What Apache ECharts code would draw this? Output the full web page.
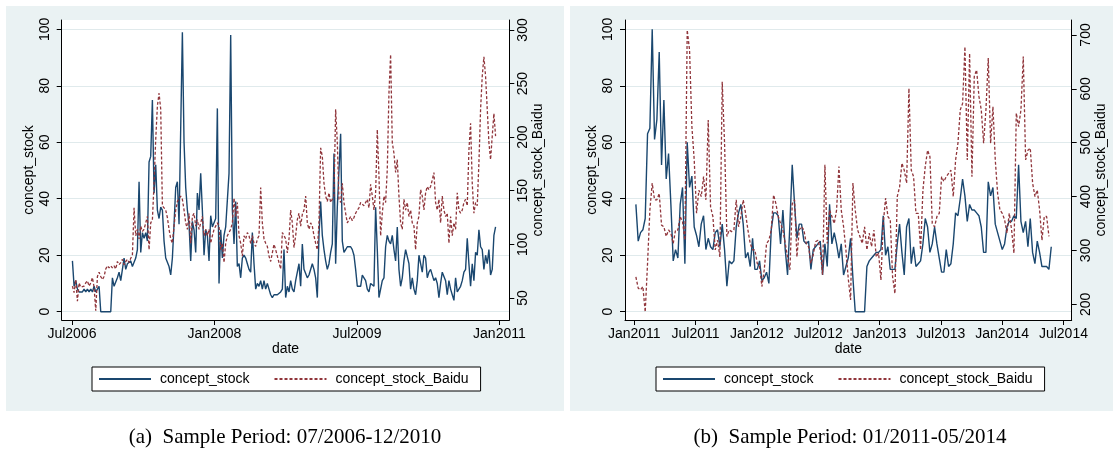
<!DOCTYPE html>
<html><head><meta charset="utf-8">
<script src="https://cdn.jsdelivr.net/npm/echarts@6/dist/echarts.min.js"></script>
<style>html,body{margin:0;padding:0;background:#fff}#c{width:1118px;height:454px}</style>
</head><body><div id="c"></div>
<script>
// ---------------- data ----------------
const seriesNames = ['concept_stock', 'concept_stock_Baidu'];
const ticksA = ['Jul2006', 'Jan2008', 'Jul2009', 'Jan2011'];
const ticksB = ['Jan2011', 'Jul2011', 'Jan2012', 'Jul2012', 'Jan2013', 'Jul2013', 'Jan2014', 'Jul2014'];
const leftTicks = [0, 20, 40, 60, 80, 100];
const rightTicksA = [50, 100, 150, 200, 250, 300];
const rightTicksB = [200, 300, 400, 500, 600, 700];
const captions = ['(a)  Sample Period: 07/2006-12/2010', '(b)  Sample Period: 01/2011-05/2014'];

// weekly observations: first and last week of each series
const periodA = ['2006-07-03', '2010-12-17'];
const periodBStock = ['2011-01-06', '2014-05-26'];
const periodBBaidu = ['2011-01-06', '2014-05-19'];

const stockA = [18,9,11,8,7,7,7,8,7,8,7,8,7,9,7,8,9,0,0,0,0,0,0,0,
12,9,9,12,14,11,15,19,15,17,17,18,16,16,19,22,46,21,28,26,28,25,53,55,75,42,52,36,33,37,36,25,19,19,16,13,19,31,44,46,31,
31,99,60,44,36,31,18,32,29,21,
42,36,49,36,20,29,27,18,34,30,
30,33,72,10,29,19,27,30,30,49,
98,36,24,39,16,17,12,19,20,19,
17,15,14,28,17,8,10,9,11,8,
11,8,10,8,6,5,6,6,6,6,
7,8,22,5,9,7,11,8,7,11,
14,17,9,24,15,15,12,13,13,17,
15,12,5,27,39,27,22,18,15,17,
21,24,56,17,37,37,63,25,21,22,
23,23,23,22,20,15,9,9,9,13,
12,11,8,7,10,10,9,37,22,5,
5,11,12,23,27,25,24,27,22,18,
30,15,9,12,18,22,22,17,8,12,
8,6,11,20,20,14,20,19,12,14,
15,15,11,12,10,5,10,14,14,11,
6,11,8,6,4,12,7,7,9,11,
14,15,26,17,9,17,11,21,20,29,
23,22,15,20,17,22,13,15,27,30];

const baiduA = [61,55,67,47,64,60,61,61,64,66,
61,64,69,60,38,70,74,70,67,70,
77,80,78,80,78,80,77,84,81,83,
86,81,84,86,83,87,90,134,108,114,
105,117,112,114,120,126,95,120,123,157,
198,229,241,226,136,134,132,125,114,105,
101,117,132,140,139,145,142,132,120,114,
129,101,126,129,117,123,114,120,126,108,
114,108,114,101,108,114,117,120,117,95,
101,83,101,108,111,114,120,143,126,139,
108,101,89,108,105,111,108,101,108,101,
98,105,108,153,120,105,101,98,89,84,
92,100,95,89,89,77,111,108,105,92,
105,132,120,97,108,123,129,117,128,132,
145,120,114,120,117,108,101,95,120,190,
182,157,145,140,148,139,140,145,226,195,
142,139,157,139,129,120,123,126,122,125,
129,132,134,139,140,136,136,142,134,156,
145,132,148,207,164,108,129,145,139,170,
241,277,195,185,167,179,145,120,114,142,
132,139,126,132,120,117,95,120,126,151,
145,132,148,154,151,154,160,167,139,132,
142,120,145,132,126,129,101,126,108,120,
114,148,132,129,132,139,142,136,188,213,
157,129,139,136,176,226,257,275,257,226,
195,179,201,222,201];

const stockB = [38,25,28,29,33,63,65,100,61,68,
92,52,75,47,56,38,18,22,19,38,
44,17,60,44,48,30,27,23,31,34,
22,26,23,22,28,29,23,31,22,9,
18,17,18,30,35,38,31,19,21,16,
26,15,15,18,11,12,14,10,29,35,
35,34,24,36,22,13,31,52,38,26,
31,31,25,24,25,15,22,23,24,25,
13,24,16,38,24,28,24,19,24,13,
16,19,26,12,0,0,0,0,0,16,
18,19,20,21,21,22,34,20,23,15,
15,15,24,31,21,13,30,33,17,23,
16,17,18,24,33,30,21,24,30,24,
19,14,14,22,16,17,24,35,34,40,
47,41,32,38,36,36,35,34,30,21,
21,46,41,44,31,28,25,22,24,30,
32,32,34,33,52,32,28,32,23,33,
21,17,25,21,16,16,16,15,23];

const baiduB = [251,230,227,233,186,276,375,425,394,394,
406,347,344,326,338,332,313,338,338,363,
353,319,709,672,530,468,369,412,400,437,
394,542,381,363,301,319,288,613,499,326,
338,335,338,394,344,363,394,369,338,313,
301,301,276,270,233,264,313,319,338,403,
387,363,350,338,313,288,264,387,394,288,
338,344,338,313,307,276,292,316,319,301,
255,459,313,375,363,350,375,456,375,344,
301,248,208,425,375,338,326,313,344,301,
332,307,338,288,295,245,350,397,363,357,
251,220,400,418,462,449,425,601,449,437,
369,369,301,412,456,486,474,350,344,363,
369,437,428,437,443,449,400,468,499,561,
573,678,468,666,437,623,635,586,561,499,
561,657,499,567,468,406,375,369,357,332,
369,338,295,555,530,561,660,468,486,490,
425,400,412,375,319,363,363,326];

// axis extents (Stata pads the ranges)
const xRangeA = ['2006-05-23', '2011-02-08'];
const xRangeB = ['2010-12-04', '2014-07-26'];
const leftRange = [-2.94, 103.3];
const rightRangeA = [29.4, 309.3];
const rightRangeB = [170.9, 727.8];

// ---------------- helpers ----------------
const MON = {Jan:0,Feb:1,Mar:2,Apr:3,May:4,Jun:5,Jul:6,Aug:7,Sep:8,Oct:9,Nov:10,Dec:11};
function dateToM(s) { const [y, m, d] = s.split('-').map(Number); const dim = new Date(y, m, 0).getDate(); return (y - 2000) * 12 + (m - 1) + (d - 1) / dim; }
function labelToM(l) { return (Number(l.slice(3)) - 2000) * 12 + MON[l.slice(0, 3)]; }
function weekly(vals, period) { const a = dateToM(period[0]), b = dateToM(period[1]), n = vals.length; return vals.map((v, i) => [a + (b - a) * i / (n - 1), v]); }

const FONT = '"Liberation Sans", Arimo, Arial, sans-serif';
const BLUE = '#1a476f', RED = '#90353b', BG = '#eaf2f3', GRID = '#e0eaec';

function xAxis(gi, ticks, range) {
  const vals = ticks.map(labelToM); const lab = {}; ticks.forEach(t => lab[labelToM(t)] = t);
  return { type: 'value', gridIndex: gi, min: dateToM(range[0]), max: dateToM(range[1]),
    name: 'date', nameLocation: 'middle', nameGap: 22, nameMoveOverlap: false,
    nameTextStyle: { fontSize: 14, color: '#000', fontFamily: FONT },
    axisLine: { show: true, onZero: false, lineStyle: { color: '#000', width: 1 } },
    axisTick: { show: true, length: 5, customValues: vals, lineStyle: { color: '#000', width: 1 } },
    axisLabel: { customValues: vals, formatter: v => lab[Math.round(v)] || '', fontSize: 14, color: '#000', margin: 7, fontFamily: FONT },
    splitLine: { show: false } };
}
function yAxis(gi, pos, ticks, range, name, gap, margin, grid) {
  return { type: 'value', gridIndex: gi, position: pos, min: range[0], max: range[1],
    name: name, nameLocation: 'middle', nameRotate: 90, nameGap: gap, nameMoveOverlap: false,
    nameTextStyle: { fontSize: 14, color: '#000', fontFamily: FONT },
    axisLine: { show: true, onZero: false, lineStyle: { color: '#000', width: 1 } },
    axisTick: { show: true, length: 5, customValues: ticks, lineStyle: { color: '#000', width: 1 } },
    axisLabel: { customValues: ticks, rotate: 90, fontSize: 14, color: '#000', margin: margin, fontFamily: FONT },
    splitLine: { show: grid, lineStyle: { color: GRID, width: 1 } } };
}
function line(name, xi, yi, data, dashed) {
  return { name: name, type: 'line', xAxisIndex: xi, yAxisIndex: yi, data: data, symbol: 'none', showSymbol: false,
    silent: true, animation: false,
    lineStyle: { color: dashed ? RED : BLUE, width: dashed ? 1.3 : 1.4, type: dashed ? [3, 2] : 'solid' },
    itemStyle: { color: dashed ? RED : BLUE } };
}
function legend(left) {
  return { data: seriesNames, left: left, top: 367, orient: 'horizontal', selectedMode: false,
    itemWidth: 52, itemHeight: 14, itemGap: 24, padding: [5, 12, 5, 6],
    backgroundColor: '#fff', borderColor: '#000', borderWidth: 1, borderRadius: 0,
    itemStyle: { opacity: 0 },
    textStyle: { fontSize: 14, color: '#000', fontFamily: FONT, padding: [0, 0, 0, 4] } };
}

const chart = echarts.init(document.getElementById('c'), null, { renderer: 'canvas' });
chart.setOption({
  animation: false,
  backgroundColor: '#fff',
  graphic: [
    { type: 'rect', z: -10, silent: true, shape: { x: 6, y: 6, width: 558, height: 405 }, style: { fill: BG } },
    { type: 'rect', z: -10, silent: true, shape: { x: 570, y: 6, width: 543, height: 405 }, style: { fill: BG } },
    { type: 'text', silent: true, x: 285, y: 437, style: { text: captions[0], fill: '#000', font: '21px "Liberation Serif", "Times New Roman", serif', textAlign: 'center', textVerticalAlign: 'middle' } },
    { type: 'text', silent: true, x: 850, y: 437, style: { text: captions[1], fill: '#000', font: '21px "Liberation Serif", "Times New Roman", serif', textAlign: 'center', textVerticalAlign: 'middle' } }
  ],
  grid: [
    { left: 61.7, top: 20, width: 447.6, height: 300, show: true, backgroundColor: '#fff', borderWidth: 0, outerBoundsMode: 'none' },
    { left: 625, top: 20, width: 446.7, height: 300, show: true, backgroundColor: '#fff', borderWidth: 0, outerBoundsMode: 'none' }
  ],
  legend: [legend(92), legend(656)],
  xAxis: [xAxis(0, ticksA, xRangeA), xAxis(1, ticksB, xRangeB)],
  yAxis: [
    yAxis(0, 'left', leftTicks, leftRange, 'concept_stock', 26, 10, true),
    yAxis(0, 'right', rightTicksA, rightRangeA, 'concept_stock_Baidu', 22, 7, false),
    yAxis(1, 'left', leftTicks, leftRange, 'concept_stock', 26, 10, true),
    yAxis(1, 'right', rightTicksB, rightRangeB, 'concept_stock_Baidu', 22, 7, false)
  ],
  series: [
    line(seriesNames[0], 0, 0, weekly(stockA, periodA), false),
    line(seriesNames[1], 0, 1, weekly(baiduA, periodA), true),
    line(seriesNames[0], 1, 2, weekly(stockB, periodBStock), false),
    line(seriesNames[1], 1, 3, weekly(baiduB, periodBBaidu), true)
  ]
});
</script>
</body></html>
